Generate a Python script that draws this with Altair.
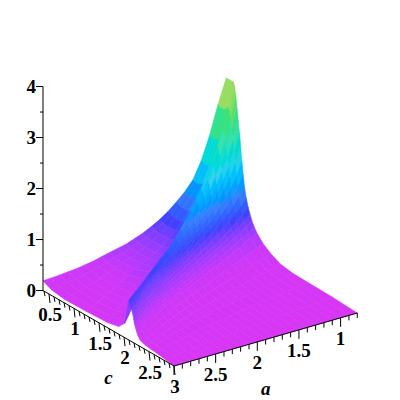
import altair as alt
import pandas as pd

# surface heights
rows_t = [2.2, 2.1, 2.0, 1.9, 1.8, 1.7, 1.6, 1.5, 1.4, 1.3, 1.2, 1.1, 1.0, 0.9, 0.8, 0.7, 0.6, 0.5, 0.4, 0.3, 0.2, 0.1, 0.0]   # 3 - a
ridge_c = [0.52, 0.58, 0.64, 0.70, 0.76, 0.82, 0.88, 0.94, 1.0, 1.065, 1.13, 1.2, 1.27, 1.34, 1.41, 1.485, 1.56, 1.64, 1.72, 1.81, 1.9, 2.0, 2.1]
left_v = [0, 0.1, 0.25, 0.5, 0.75, 0.88, 0.95, 1]
right_u = [0, .01, .02, .03, .04, .05, .06, .07, .08, .09, .105, .12, .135, .15, .17, .19, .24, .3, .38, .48, .6, .8, 1]
left_z = [
    [3.13, 3.13, 3.13, 3.13, 3.13, 3.13, 3.13, 3.13],
    [2.65, 2.63, 2.62, 2.62, 2.64, 2.66, 2.70, 2.72],
    [2.10, 2.08, 2.06, 2.08, 2.14, 2.20, 2.28, 2.35],
    [1.65, 1.63, 1.62, 1.65, 1.75, 1.85, 1.98, 2.10],
    [1.32, 1.30, 1.29, 1.34, 1.46, 1.59, 1.74, 1.88],
    [1.13, 1.10, 1.09, 1.12, 1.23, 1.36, 1.51, 1.67],
    [.98, .95, .93, .94, 1.02, 1.14, 1.30, 1.50],
    [.84, .81, .79, .80, .88, 1.00, 1.17, 1.37],
    [.73, .70, .68, .69, .76, .88, 1.05, 1.25],
    [.64, .61, .59, .60, .66, .78, .95, 1.15],
    [.56, .53, .51, .52, .58, .70, .87, 1.06],
    [.50, .47, .45, .46, .52, .64, .79, .97],
    [.44, .41, .39, .41, .47, .58, .73, .90],
    [.405, .37, .35, .375, .445, .55, .68, .87],
    [.37, .33, .31, .34, .42, .52, .64, .84],
    [.33, .29, .265, .29, .365, .47, .60, .81],
    [.29, .25, .22, .24, .31, .42, .56, .78],
    [.265, .22, .19, .20, .26, .36, .51, .75],
    [.24, .19, .16, .16, .21, .30, .46, .73],
    [.225, .17, .135, .135, .18, .265, .42, .73],
    [.21, .15, .11, .11, .15, .23, .38, .74],
    [.20, .13, .09, .09, .125, .19, .33, .76],
    [.19, .11, .07, .08, .10, .15, .28, .78],
]
right_z = [
    [3.13, 3.07, 2.90, 2.65, 2.43, 2.20, 1.94, 1.67, 1.42, 1.20, 1.00, .84, .72, .62, .52, .44, .30, .19, .09, .05, .04, .03, 0],
    [2.72, 2.66, 2.50, 2.30, 2.11, 1.92, 1.69, 1.46, 1.26, 1.08, .91, .77, .67, .58, .49, .41, .28, .18, .09, .05, .04, .03, 0],
    [2.35, 2.30, 2.17, 2.00, 1.85, 1.68, 1.49, 1.30, 1.13, .98, .84, .71, .62, .54, .46, .39, .27, .17, .09, .05, .04, .03, 0],
    [2.10, 2.06, 1.94, 1.80, 1.65, 1.50, 1.34, 1.18, 1.03, .90, .78, .66, .58, .51, .44, .37, .25, .16, .09, .05, .04, .03, 0],
    [1.88, 1.84, 1.74, 1.62, 1.49, 1.36, 1.22, 1.08, .95, .84, .73, .62, .55, .48, .41, .35, .24, .15, .09, .05, .04, .03, 0],
    [1.67, 1.64, 1.55, 1.45, 1.34, 1.23, 1.11, .99, .88, .78, .68, .58, .51, .45, .39, .33, .23, .15, .09, .05, .04, .03, 0],
    [1.50, 1.47, 1.39, 1.30, 1.21, 1.12, 1.02, .92, .82, .73, .64, .55, .49, .43, .37, .32, .22, .14, .09, .06, .04, .03, 0],
    [1.37, 1.34, 1.28, 1.20, 1.12, 1.04, .95, .87, .78, .69, .60, .52, .46, .41, .35, .30, .21, .14, .09, .06, .05, .03, 0],
    [1.25, 1.22, 1.17, 1.10, 1.03, .97, .90, .82, .74, .66, .58, .50, .44, .39, .34, .29, .20, .13, .09, .06, .05, .03, 0],
    [1.15, 1.13, 1.08, 1.02, .96, .91, .85, .77, .70, .63, .55, .48, .42, .37, .32, .28, .19, .13, .09, .06, .05, .03, 0],
    [1.06, 1.04, .99, .95, .90, .85, .79, .73, .66, .60, .53, .46, .41, .36, .31, .27, .19, .13, .09, .06, .05, .03, 0],
    [.97, .95, .92, .88, .84, .80, .75, .69, .63, .57, .50, .44, .39, .34, .30, .26, .18, .12, .09, .07, .05, .03, 0],
    [.90, .88, .85, .82, .78, .75, .71, .66, .60, .55, .49, .43, .38, .33, .29, .25, .18, .12, .09, .07, .05, .03, 0],
    [.87, .85, .82, .79, .76, .73, .69, .64, .59, .54, .48, .42, .37, .33, .28, .25, .17, .12, .09, .07, .05, .03, 0],
    [.84, .82, .79, .77, .74, .71, .67, .63, .58, .53, .47, .41, .36, .32, .28, .24, .17, .12, .09, .07, .05, .03, 0],
    [.81, .79, .76, .74, .71, .68, .65, .61, .57, .52, .46, .40, .36, .31, .27, .24, .16, .11, .09, .07, .06, .03, 0],
    [.78, .76, .73, .71, .68, .66, .63, .60, .56, .51, .45, .40, .35, .31, .27, .23, .16, .11, .09, .07, .06, .03, 0],
    [.75, .73, .71, .69, .66, .64, .61, .58, .54, .50, .45, .39, .35, .30, .26, .22, .15, .11, .08, .07, .06, .03, 0],
    [.73, .71, .69, .67, .65, .63, .60, .57, .54, .50, .45, .39, .34, .30, .26, .22, .15, .11, .08, .07, .06, .03, 0],
    [.73, .71, .69, .67, .65, .63, .61, .57, .54, .50, .45, .39, .34, .30, .25, .21, .14, .10, .08, .07, .06, .03, 0],
    [.74, .72, .70, .68, .66, .64, .61, .58, .54, .51, .45, .39, .34, .30, .25, .21, .14, .10, .08, .07, .06, .03, 0],
    [.76, .73, .71, .69, .67, .65, .62, .59, .55, .52, .45, .39, .34, .30, .25, .21, .14, .10, .08, .07, .06, .03, 0],
    [.78, .75, .72, .70, .68, .65, .63, .60, .56, .53, .45, .38, .34, .30, .25, .20, .13, .10, .08, .07, .06, .03, 0],
]
color_z = [0, 0.25, 0.45, 0.75, 1.1, 1.6, 2.1, 2.5, 3.15]
color_hex = ["#d836f5", "#cc38f8", "#a23cff", "#4040ff", "#3c80ff", "#38d0f0", "#3ce0b0", "#3ce070", "#bcd860"]

c_ticks = [0.5, 1, 1.5, 2, 2.5, 3]
a_ticks = [1, 1.5, 2, 2.5, 3]
z_ticks = [0, 1, 2, 3, 4]
C_MIN, A_MIN = 0.38, 0.8
FONT = "Liberation Serif"


def sx(a, c):
    return 174 + 83.3 * (3 - a) - 50 * (3 - c)


def sy(a, c, z=0.0):
    return 366 - 24.1 * (3 - a) - 28.8 * (3 - c) - 51 * z


polys = []
pid = 0


def add_quad(a0, c0, z0, a1, c1, z1, a2, c2, z2, a3, c3, z3):
    global pid
    zm = (z0 + z1 + z2 + z3) / 4
    for k, (a, c, z) in enumerate([(a0, c0, z0), (a1, c1, z1), (a2, c2, z2), (a3, c3, z3)]):
        polys.append({"p": pid, "k": k, "x": sx(a, c), "y": sy(a, c, z), "z": zm})
    pid += 1


def c_left(i, j):
    return C_MIN + (ridge_c[i] - C_MIN) * left_v[j]


def c_right(i, j):
    return ridge_c[i] + (3 - ridge_c[i]) * right_u[j]


for cfun, zz, n in [(c_left, left_z, len(left_v)), (c_right, right_z, len(right_u))]:
    for i in range(len(rows_t) - 1):
        a0, a1 = 3 - rows_t[i], 3 - rows_t[i + 1]
        for j in range(n - 1):
            add_quad(a0, cfun(i, j), zz[i][j], a0, cfun(i, j + 1), zz[i][j + 1],
                     a1, cfun(i + 1, j + 1), zz[i + 1][j + 1], a1, cfun(i + 1, j), zz[i + 1][j])

X = alt.Scale(domain=[8, 392], range=[0, 384])
Y = alt.Scale(domain=[400, 8], range=[392, 0])
x_e = lambda f="x": alt.X(f + ":Q", scale=X, axis=None)
y_e = lambda f="y": alt.Y(f + ":Q", scale=Y, axis=None)
col_scale = alt.Scale(domain=color_z, range=color_hex)

surface = alt.Chart(alt.Data(values=polys)).mark_line(filled=True, strokeWidth=0.6, interpolate="linear-closed").encode(
    x=x_e(), y=y_e(), order="k:Q", detail="p:N",
    fill=alt.Fill("z:Q", scale=col_scale, legend=None),
    stroke=alt.Stroke("z:Q", scale=col_scale, legend=None),
)

# axes
segs = []
x0, y0 = sx(3, C_MIN), sy(3, C_MIN)
segs.append((x0, y0, x0, sy(3, C_MIN, 4), 1))
segs.append((x0, y0, sx(3, 3), sy(3, 3), 1))
segs.append((sx(3, 3), sy(3, 3), sx(A_MIN, 3), sy(A_MIN, 3), 1))
for n in range(4, 31):
    c = n / 10
    ln = 9 if n % 5 == 0 else 5
    segs.append((sx(3, c), sy(3, c), sx(3, c) + 1, sy(3, c) + ln, 1))
for n in range(8, 31):
    a = n / 10
    ln = 9 if n % 5 == 0 else 5
    segs.append((sx(a, 3), sy(a, 3), sx(a, 3), sy(a, 3) + ln, 1))
for n in range(0, 9):
    z = n / 2
    ln = 7 if n % 2 == 0 else 3
    segs.append((x0, sy(3, C_MIN, z), x0 - ln, sy(3, C_MIN, z), 1))
axis_df = pd.DataFrame(segs, columns=["x", "y", "x2", "y2", "w"])
axes = alt.Chart(axis_df).mark_rule(color="#000000", strokeWidth=1).encode(
    x=x_e(), y=y_e(), x2="x2:Q", y2="y2:Q")

labels = []
for c in c_ticks:
    labels.append((sx(3, c) + 1, sy(3, c) + 21, str(c)))
for a in a_ticks[:-1]:
    labels.append((sx(a, 3), sy(a, 3) + 21, str(a)))
lab_df = pd.DataFrame(labels, columns=["x", "y", "t"])
lab = alt.Chart(lab_df).mark_text(font=FONT, fontSize=19, fontWeight="bold", baseline="middle", align="center").encode(
    x=x_e(), y=y_e(), text="t:N")
zlab_df = pd.DataFrame({"x": [x0 - 7] * 5, "y": [sy(3, C_MIN, z) for z in z_ticks], "t": [str(z) for z in z_ticks]})
zlab = alt.Chart(zlab_df).mark_text(font=FONT, fontSize=19, fontWeight="bold", baseline="middle", align="right").encode(
    x=x_e(), y=y_e(), text="t:N")
tit_df = pd.DataFrame({"x": [sx(3, 1.69), sx(1.9, 3)], "y": [sy(3, 1.69) + 50, sy(1.9, 3) + 49.5], "t": ["c", "a"]})
tit = alt.Chart(tit_df).mark_text(font=FONT, fontSize=19, fontWeight="bold", fontStyle="italic", baseline="middle", align="center").encode(
    x=x_e(), y=y_e(), text="t:N")

chart = alt.layer(surface, axes, lab, zlab, tit).properties(
    width=384, height=392, padding=0, autosize="none"
).configure_view(stroke=None)
chart.save("out.html", embed_options={"renderer": "svg", "actions": False})
